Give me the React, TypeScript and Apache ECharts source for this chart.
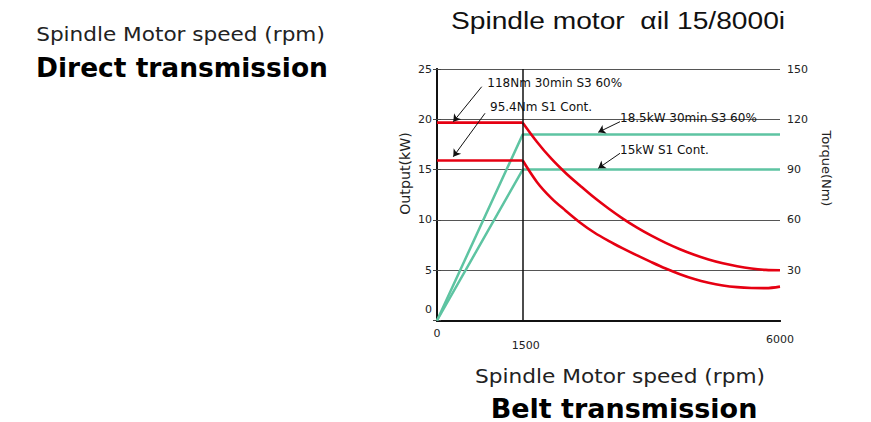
import React, { useEffect, useRef } from "react";
import * as echarts from "echarts";

// Spindle speed (rpm) sampled along the torque curves
const speedRpm = [0, 1500, 1750, 2000, 2250, 2500, 2750, 3000, 3250, 3500, 3750, 4000, 4250, 4500, 4750, 5000, 5250, 5500, 5750, 6000];
// Torque, 30 min S3 60% (Nm)
const torqueS3Nm = [118, 118, 106.5, 96.5, 88, 80.5, 73.3, 66.8, 60.8, 55.4, 50.6, 46.3, 42.5, 39.2, 36.4, 34.1, 32.3, 31, 30.2, 30];
// Torque, S1 continuous (Nm)
const torqueS1Nm = [95.4, 95.4, 82.5, 73, 65.5, 58.5, 52.5, 47.5, 43, 38.8, 34.8, 31, 27.6, 24.7, 22.5, 20.9, 19.9, 19.4, 19.3, 20.2];

// Output power curves
const powerRpm = [0, 1500, 6000];
const powerS3kW = [0, 18.5, 18.5];
const powerS1kW = [0, 15, 15];

// Axis ticks
const xTickValues = [0, 1500, 6000];
const outputTicks = { min: 0, max: 25, step: 5 };
const torqueTicks = { min: 0, max: 150, step: 30 };

// Annotations (data coordinates: rpm, kW)
const annotationTexts = ["118Nm 30min S3 60%", "95.4Nm S1 Cont.", "18.5kW 30min S3 60%", "15kW S1 Cont."];
const annotationTextAt = [[880, 23.58], [927, 21.25], [3201, 20.1], [3201, 16.95]];
const arrowFrom = [[782, 23.24], [840, 20.6], [3201, 19.76], [3201, 16.62]];
const arrowTo = [[285, 19.76], [285, 16.28], [2821, 18.71], [2821, 15.13]];

const RED = "#e60012";
const TEAL = "#5ec4a2";
const FONT = "DejaVu Sans";

export default function App() {
  const ref = useRef<HTMLDivElement>(null);

  useEffect(() => {
    if (!ref.current) return;
    const chart = echarts.init(ref.current, undefined, { renderer: "svg" });

    const zip = (xs: number[], ys: number[]) => xs.map((x, i) => [x, ys[i]]);
    const s3 = zip(speedRpm, torqueS3Nm);
    const s1 = zip(speedRpm, torqueS1Nm);

    const redLine = (name: string, data: number[][], smooth: number | boolean, extra: any = {}) => ({
      name,
      type: "line",
      xAxisIndex: 0,
      yAxisIndex: 1,
      data,
      smooth,
      symbol: "none",
      z: 3,
      lineStyle: { color: RED, width: 2.6 },
      ...extra,
    });

    const option: any = {
      animation: false,
      backgroundColor: "#ffffff",
      grid: { left: 437, right: 91, top: 69, bottom: 101.5, containLabel: false },
      xAxis: [
        {
          type: "value",
          min: 0,
          max: 6000,
          interval: 1500,
          position: "bottom",
          axisLine: { show: true, lineStyle: { color: "#111", width: 2 } },
          axisTick: { show: false },
          splitLine: { show: false },
          axisLabel: {
            margin: 7,
            fontFamily: FONT,
            fontSize: 11,
            color: "#222",
            formatter: (v: number) => {
              if (!xTickValues.includes(v)) return "";
              if (v === 1500) return "{b|1500}";
              if (v === 6000) return "{c|6000}";
              return "{a|" + v + "}";
            },
            rich: {
              a: { fontFamily: FONT, fontSize: 11, color: "#222" },
              b: { fontFamily: FONT, fontSize: 11, color: "#222", padding: [12, 0, 0, 6] },
              c: { fontFamily: FONT, fontSize: 11, color: "#222", padding: [6, 0, 0, 0] },
            },
          },
        },
        {
          type: "value",
          min: 0,
          max: 6000,
          interval: 1500,
          position: "top",
          axisLine: { show: true, lineStyle: { color: "#111", width: 2 } },
          axisTick: { show: false },
          axisLabel: { show: false },
          splitLine: { show: false },
        },
      ],
      yAxis: [
        {
          type: "value",
          min: outputTicks.min,
          max: outputTicks.max,
          interval: outputTicks.step,
          position: "left",
          axisLine: { show: true, lineStyle: { color: "#111", width: 2 } },
          axisTick: { show: true, length: 4, lineStyle: { color: "#444" } },
          splitLine: { show: true, lineStyle: { color: "#555", width: 1.2 } },
          axisLabel: {
            margin: 5,
            fontFamily: FONT,
            fontSize: 11,
            color: "#222",
            formatter: (v: number) => (v === 0 ? "{lift|0}" : String(v)),
            rich: {
              lift: { fontFamily: FONT, fontSize: 11, color: "#222", padding: [0, 0, 22, 0] },
            },
          },
        },
        {
          type: "value",
          min: torqueTicks.min,
          max: torqueTicks.max,
          interval: torqueTicks.step,
          position: "right",
          axisLine: { show: true, lineStyle: { color: "#111", width: 2 } },
          axisTick: { show: true, length: 4, lineStyle: { color: "#444" } },
          splitLine: { show: false },
          axisLabel: {
            margin: 7,
            fontFamily: FONT,
            fontSize: 11,
            color: "#222",
            formatter: (v: number) => (v === 0 ? "" : String(v)),
          },
        },
      ],
      series: [
        redLine("Torque S3 constant", s3.slice(0, 2), false, {
          markLine: {
            silent: true,
            symbol: ["none", "none"],
            label: { show: false },
            lineStyle: { color: "#111", width: 1.5, type: "solid" },
            data: [{ xAxis: 1500 }],
          },
        }),
        redLine("Torque S3", s3.slice(1), 0.35),
        redLine("Torque S1 constant", s1.slice(0, 2), false),
        redLine("Torque S1", s1.slice(1), 0.35),
        {
          name: "Output S3",
          type: "line",
          xAxisIndex: 0,
          yAxisIndex: 0,
          data: zip(powerRpm, powerS3kW),
          symbol: "none",
          z: 2,
          lineStyle: { color: TEAL, width: 2.5 },
          markLine: {
            silent: true,
            symbol: ["none", "arrow"],
            symbolSize: 7,
            label: { show: false },
            lineStyle: { color: "#111", width: 1, type: "solid" },
            data: arrowFrom.map((f, i) => [{ coord: f }, { coord: arrowTo[i] }]),
          },
          markPoint: {
            silent: true,
            symbol: "circle",
            symbolSize: 0,
            itemStyle: { color: "transparent" },
            label: {
              show: true,
              position: "right",
              distance: 0,
              formatter: "{b}",
              color: "#111",
              fontFamily: FONT,
              fontSize: 12,
            },
            data: annotationTextAt.map((c, i) => ({ coord: c, name: annotationTexts[i], value: i })),
          },
        },
        {
          name: "Output S1",
          type: "line",
          xAxisIndex: 0,
          yAxisIndex: 0,
          data: zip(powerRpm, powerS1kW),
          symbol: "none",
          z: 2,
          lineStyle: { color: TEAL, width: 2.5 },
        },
      ],
      graphic: [
        {
          type: "text",
          x: 618,
          y: 20.5,
          scaleX: 1.15,
          style: {
            text: "Spindle motor  αil 15/8000i",
            fontFamily: "Liberation Sans",
            fontSize: 24.5,
            fill: "#111",
            align: "center",
            verticalAlign: "middle",
          },
        },
        {
          type: "text",
          x: 180.5,
          y: 34.5,
          scaleX: 1.08,
          style: {
            text: "Spindle Motor speed (rpm)",
            fontFamily: FONT,
            fontSize: 20,
            fill: "#222",
            align: "center",
            verticalAlign: "middle",
          },
        },
        {
          type: "text",
          x: 182,
          y: 67.5,
          scaleX: 0.98,
          style: {
            text: "Direct transmission",
            fontFamily: FONT,
            fontWeight: "bold",
            fontSize: 27,
            fill: "#000",
            align: "center",
            verticalAlign: "middle",
          },
        },
        {
          type: "text",
          x: 620,
          y: 376,
          scaleX: 1.085,
          style: {
            text: "Spindle Motor speed (rpm)",
            fontFamily: FONT,
            fontSize: 20,
            fill: "#222",
            align: "center",
            verticalAlign: "middle",
          },
        },
        {
          type: "text",
          x: 624,
          y: 408,
          style: {
            text: "Belt transmission",
            fontFamily: FONT,
            fontWeight: "bold",
            fontSize: 27,
            fill: "#000",
            align: "center",
            verticalAlign: "middle",
          },
        },
        {
          type: "text",
          x: 405,
          y: 173.5,
          rotation: Math.PI / 2,
          style: {
            text: "Output(kW)",
            fontFamily: FONT,
            fontSize: 14.2,
            fill: "#222",
            align: "center",
            verticalAlign: "middle",
          },
        },
        {
          type: "text",
          x: 826.5,
          y: 168.5,
          rotation: -Math.PI / 2,
          style: {
            text: "Torque(Nm)",
            fontFamily: FONT,
            fontSize: 13,
            fill: "#222",
            align: "center",
            verticalAlign: "middle",
          },
        },
      ],
    };

    chart.setOption(option);
    return () => chart.dispose();
  }, []);

  return (
    <div
      ref={ref}
      style={{ position: "absolute", left: 0, top: 0, width: 871, height: 422, background: "#fff" }}
    />
  );
}
